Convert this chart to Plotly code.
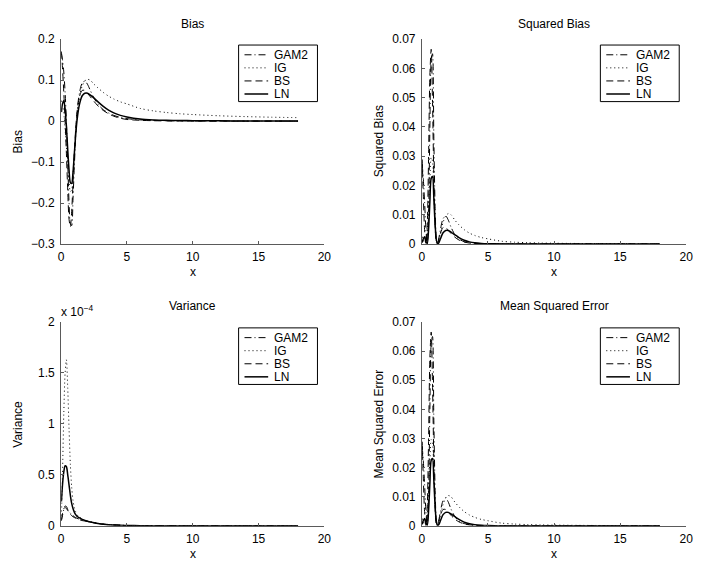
import plotly.graph_objects as go

# ---- data -------------------------------------------------------------
x_grid = [0.02, 0.1, 0.2, 0.3, 0.4, 0.5, 0.6, 0.7, 0.8, 0.9, 1.0, 1.1, 1.2,
          1.3, 1.4, 1.5, 1.6, 1.8, 2.0, 2.2, 2.5, 2.8, 3.2, 3.6, 4.0, 4.5,
          5, 6, 7, 8, 9, 10, 12, 14, 16, 18]

bias_gam2 = [0.165, 0.15, 0.12, 0.07, 0.0, -0.1, -0.2, -0.25, -0.255, -0.19,
             -0.11, -0.04, 0.015, 0.05, 0.07, 0.085, 0.093, 0.098, 0.09, 0.076,
             0.056, 0.041, 0.028, 0.02, 0.014, 0.009, 0.006, 0.003, 0.002,
             0.001, 0.0007, 0.0005, 0.0003, 0.0002, 0.0001, 0.0]
bias_ig = [0.05, 0.04, 0.02, -0.02, -0.06, -0.11, -0.15, -0.172, -0.168,
           -0.13, -0.08, -0.03, 0.01, 0.04, 0.06, 0.075, 0.086, 0.098, 0.102,
           0.1, 0.09, 0.081, 0.07, 0.061, 0.054, 0.047, 0.042, 0.031, 0.025,
           0.021, 0.018, 0.016, 0.013, 0.011, 0.0095, 0.0085]
bias_bs = [0.17, 0.13, 0.07, 0.0, -0.08, -0.17, -0.24, -0.258, -0.22, -0.15,
           -0.08, -0.02, 0.02, 0.045, 0.06, 0.07, 0.075, 0.075, 0.068, 0.06,
           0.048, 0.037, 0.026, 0.018, 0.012, 0.007, 0.004, 0.002, 0.001,
           0.0005, 0.0003, 0.0002, 0.0001, 0.0, 0.0, 0.0]
bias_ln = [0.022, 0.042, 0.05, 0.03, -0.015, -0.07, -0.12, -0.15, -0.152,
           -0.125, -0.08, -0.035, 0.0, 0.025, 0.042, 0.054, 0.062, 0.068,
           0.068, 0.064, 0.056, 0.047, 0.036, 0.027, 0.02, 0.014, 0.01, 0.005,
           0.003, 0.002, 0.0015, 0.001, 0.0006, 0.0003, 0.0002, 0.0001]

# variance, in units of 1e-4
var_gam2 = [0.05, 0.1, 0.16, 0.195, 0.19, 0.16, 0.14, 0.125, 0.11, 0.1, 0.09,
            0.082, 0.075, 0.07, 0.065, 0.06, 0.056, 0.05, 0.044, 0.038, 0.03,
            0.024, 0.017, 0.012, 0.009, 0.006, 0.004, 0.002, 0.001, 0.0007,
            0.0005, 0.0003, 0.0002, 0.0001, 0.0, 0.0]
var_ig = [0.1, 0.5, 1.1, 1.5, 1.63, 1.35, 0.95, 0.6, 0.38, 0.25, 0.18, 0.14,
          0.11, 0.095, 0.085, 0.075, 0.067, 0.055, 0.047, 0.04, 0.032, 0.025,
          0.018, 0.013, 0.009, 0.006, 0.004, 0.002, 0.001, 0.0007, 0.0005,
          0.0003, 0.0002, 0.0001, 0.0, 0.0]
var_bs = [0.06, 0.12, 0.17, 0.18, 0.17, 0.15, 0.13, 0.115, 0.1, 0.09, 0.082,
          0.075, 0.07, 0.065, 0.06, 0.056, 0.052, 0.047, 0.042, 0.036, 0.029,
          0.023, 0.016, 0.011, 0.008, 0.005, 0.003, 0.002, 0.001, 0.0006,
          0.0004, 0.0003, 0.0002, 0.0001, 0.0, 0.0]
var_ln = [0.24, 0.4, 0.53, 0.59, 0.58, 0.5, 0.4, 0.3, 0.22, 0.17, 0.135, 0.11,
          0.095, 0.085, 0.078, 0.07, 0.064, 0.054, 0.046, 0.039, 0.031, 0.024,
          0.017, 0.012, 0.009, 0.006, 0.004, 0.002, 0.001, 0.0007, 0.0005,
          0.0003, 0.0002, 0.0001, 0.0, 0.0]
VAR_UNIT = 1e-4

names = ["GAM2", "IG", "BS", "LN"]
bias = [bias_gam2, bias_ig, bias_bs, bias_ln]
variance = [var_gam2, var_ig, var_bs, var_ln]
sq_bias = [[b * b for b in s] for s in bias]
mse = [[b * b + v * VAR_UNIT for b, v in zip(sb, sv)] for sb, sv in zip(bias, variance)]

dashes = ["7px,3px,1px,3px", "1px,3px", "7px,4px", "solid"]
widths = [1, 1, 1, 1.5]

# ---- layout -----------------------------------------------------------
W, H = 702, 567
FONT = "Liberation Sans, Arial, Helvetica, sans-serif"
FS = 12
AX_COLOR = "#5a5a5a"
# (left, top, right, bottom) of each axes box, in pixels
boxes = [(59, 33, 326, 243), (425, 33, 693, 243),
         (59, 323, 326, 532), (425, 323, 693, 532)]
titles = ["Bias", "Squared Bias", "Variance", "Mean Squared Error"]
y_ranges = [[-0.3, 0.2], [0, 0.07], [0, 2], [0, 0.07]]
y_ticks = [[-0.3, -0.2, -0.1, 0, 0.1, 0.2],
           [0, 0.01, 0.02, 0.03, 0.04, 0.05, 0.06, 0.07],
           [0, 0.5, 1, 1.5, 2],
           [0, 0.01, 0.02, 0.03, 0.04, 0.05, 0.06, 0.07]]
y_ticktext = [["\u22120.3", "\u22120.2", "\u22120.1", "0", "0.1", "0.2"],
              ["0", "0.01", "0.02", "0.03", "0.04", "0.05", "0.06", "0.07"],
              ["0", "0.5", "1", "1.5", "2"],
              ["0", "0.01", "0.02", "0.03", "0.04", "0.05", "0.06", "0.07"]]
panel_data = [bias, sq_bias, variance, mse]


def px(xp, yp):
    return xp / W, 1 - yp / H


def text(s, xp, yp, **kw):
    xx, yy = px(xp, yp)
    d = dict(text=s, x=xx, y=yy, xref="paper", yref="paper", showarrow=False,
             xanchor="center", yanchor="middle",
             font=dict(family=FONT, size=FS, color="black"))
    d.update(kw)
    return d


fig = go.Figure()
annotations = []
shapes = []
layout = {}
for i in range(4):
    l, t, r, b = boxes[i]
    sfx = "" if i == 0 else str(i + 1)
    for k in range(4):
        fig.add_trace(go.Scatter(
            x=x_grid, y=panel_data[i][k], name=names[k], mode="lines",
            line=dict(color="black", shape="spline", smoothing=0.8,
                      dash=dashes[k], width=widths[k]),
            xaxis="x" + sfx, yaxis="y" + sfx, showlegend=False))
    layout["xaxis" + sfx] = dict(
        domain=[l / W, r / W], range=[0, 20], tickvals=[0, 5, 10, 15, 20],
        ticks="inside", ticklen=3, tickcolor=AX_COLOR, showline=True,
        linecolor=AX_COLOR, linewidth=1, showgrid=False, zeroline=False,
        anchor="y" + sfx, ticklabelstandoff=2,
        tickfont=dict(family=FONT, size=FS, color="black"))
    layout["yaxis" + sfx] = dict(
        domain=[1 - b / H, 1 - t / H], range=y_ranges[i], tickvals=y_ticks[i],
        ticktext=y_ticktext[i], ticks="inside", ticklen=3, tickcolor=AX_COLOR,
        showline=True, linecolor=AX_COLOR, linewidth=1, showgrid=False,
        zeroline=False, anchor="x" + sfx, ticklabelstandoff=3,
        tickfont=dict(family=FONT, size=FS, color="black"))

    # legend box in the upper right corner of the axes
    bl, br, bt, bb = r - 87, r - 7, t + 6, t + 64
    x0, y0 = px(bl, bt)
    x1, y1 = px(br, bb)
    shapes.append(dict(type="rect", xref="paper", yref="paper", x0=x0, x1=x1,
                       y0=y1, y1=y0, line=dict(color="black", width=1),
                       fillcolor="white", layer="above"))
    for k in range(4):
        row_y = bt + 10 + k * 13.4
        sx0, sy = px(bl + 6, row_y)
        sx1, _ = px(bl + 30, row_y)
        shapes.append(dict(type="line", xref="paper", yref="paper",
                           x0=sx0, x1=sx1, y0=sy, y1=sy, layer="above",
                           line=dict(color="black", width=widths[k],
                                     dash=dashes[k])))
        annotations.append(text(names[k], bl + 34, row_y, xanchor="left"))

    annotations.append(text(titles[i], (l + r) / 2, t - 16))
    annotations.append(text("x", (l + r) / 2, b + 29))
    annotations.append(text(titles[i], l - 44, (t + b) / 2, textangle=-90))

# exponent note on the variance axis
annotations.append(text("x 10<sup>\u22124</sup>", 57, 312, xanchor="left"))

fig.update_layout(width=W, height=H, margin=dict(l=0, r=0, t=0, b=0),
                  paper_bgcolor="white", plot_bgcolor="white",
                  annotations=annotations, shapes=shapes, **layout)

fig.write_html("out.html")
